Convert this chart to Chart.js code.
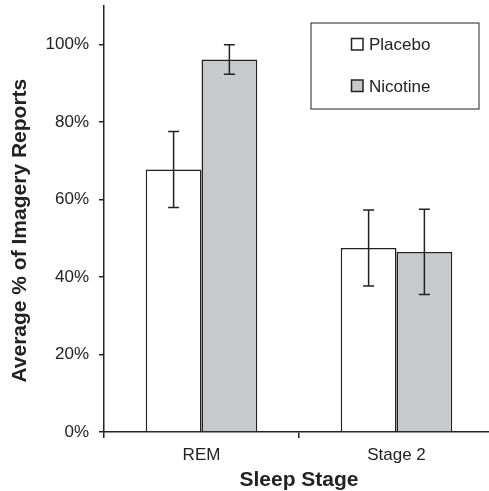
<!DOCTYPE html>
<html>
<head>
<meta charset="utf-8">
<script src="https://cdn.jsdelivr.net/npm/chart.js@4.4.0/dist/chart.umd.min.js"></script>
<style>
  html, body { margin: 0; padding: 0; background: #fff; overflow: hidden; }
  #wrap { width: 494px; height: 491px; }
</style>
</head>
<body>
<div id="wrap"><canvas id="sleepChart" width="494" height="491"></canvas></div>
<script>
// 数据
const stages = ['REM', 'Stage 2'];
const placebo = [67.8, 47.5];
const placeboErr = [9.8, 9.8];
const nicotine = [96.2, 46.5];
const nicotineErr = [3.8, 11];
const yTicks = [0, 20, 40, 60, 80, 100];

const ink = '#222';
const fontFamily = '"Liberation Sans", Arial, Helvetica, sans-serif';

// 误差线
const errorBars = {
    id: 'errorBars',
    afterDatasetsDraw(chart) {
        const ctx = chart.ctx;
        const y = chart.scales.y;
        ctx.save();
        ctx.strokeStyle = ink;
        ctx.lineWidth = 1.5;
        chart.data.datasets.forEach(function(ds, i) {
            const meta = chart.getDatasetMeta(i);
            meta.data.forEach(function(bar, j) {
                const v = ds.data[j], e = ds.errors[j];
                const top = y.getPixelForValue(v + e);
                const bot = y.getPixelForValue(v - e);
                ctx.beginPath();
                ctx.moveTo(bar.x, top); ctx.lineTo(bar.x, bot);
                ctx.moveTo(bar.x - 5.5, top); ctx.lineTo(bar.x + 5.5, top);
                ctx.moveTo(bar.x - 5.5, bot); ctx.lineTo(bar.x + 5.5, bot);
                ctx.stroke();
            });
        });
        ctx.restore();
    }
};

// 带边框的图例
const boxLegend = {
    id: 'boxLegend',
    afterDraw(chart) {
        const ctx = chart.ctx;
        ctx.save();
        ctx.strokeStyle = ink;
        ctx.lineWidth = 1;
        ctx.strokeRect(311, 23, 168, 86);
        ctx.font = '17px ' + fontFamily;
        ctx.textBaseline = 'middle';
        const rows = [44.5, 86];
        chart.data.datasets.forEach(function(ds, i) {
            const cy = rows[i];
            ctx.fillStyle = ds.backgroundColor;
            ctx.fillRect(351.5, cy - 6, 11.5, 11.5);
            ctx.lineWidth = 1.5;
            ctx.strokeRect(351.5, cy - 6, 11.5, 11.5);
            ctx.fillStyle = ink;
            ctx.fillText(ds.label, 369, cy + 1);
        });
        ctx.restore();
    }
};

new Chart(document.getElementById('sleepChart').getContext('2d'), {
    type: 'bar',
    data: {
        labels: stages,
        datasets: [
            {
                label: 'Placebo',
                data: placebo,
                errors: placeboErr,
                backgroundColor: '#ffffff',
                borderColor: ink,
                borderWidth: 1.5
            },
            {
                label: 'Nicotine',
                data: nicotine,
                errors: nicotineErr,
                backgroundColor: '#c8c9cb',
                borderColor: ink,
                borderWidth: 1.5
            }
        ]
    },
    options: {
        responsive: false,
        animation: false,
        layout: { padding: { top: 6, right: 0, bottom: 0, left: 0 } },
        datasets: {
            bar: { categoryPercentage: 0.572, barPercentage: 1.0 }
        },
        scales: {
            x: {
                afterFit: function(scale) { scale.height = 59; },
                grid: { drawOnChartArea: false, tickLength: 6, color: ink, lineWidth: 1.5 },
                border: { color: ink, width: 1.5 },
                ticks: { color: ink, font: { family: fontFamily, size: 17 }, padding: 7 },
                title: {
                    display: true,
                    text: 'Sleep Stage',
                    color: ink,
                    font: { family: fontFamily, size: 21, weight: 'bold' },
                    padding: { top: 0, bottom: -2 }
                }
            },
            y: {
                min: 0,
                max: 110,
                afterFit: function(scale) {
                    scale.width = 104;
                    // 顶部不需要为标签留空
                    scale.paddingTop = 0;
                    scale.paddingBottom = 0;
                },
                afterBuildTicks: function(scale) {
                    scale.ticks = yTicks.map(function(v) { return { value: v }; });
                },
                grid: { drawOnChartArea: false, tickLength: 5, color: ink, lineWidth: 1.5 },
                border: { color: ink, width: 1.5 },
                ticks: {
                    color: ink,
                    font: { family: fontFamily, size: 17 },
                    padding: 10,
                    callback: function(v) { return v + '%'; }
                },
                title: {
                    display: true,
                    text: 'Average % of Imagery Reports    ',
                    color: ink,
                    font: { family: fontFamily, size: 21, weight: 'bold' },
                    padding: { top: 8, bottom: 0 }
                }
            }
        },
        plugins: {
            legend: { display: false },
            tooltip: { enabled: false }
        }
    },
    plugins: [errorBars, boxLegend]
});
</script>
</body>
</html>
